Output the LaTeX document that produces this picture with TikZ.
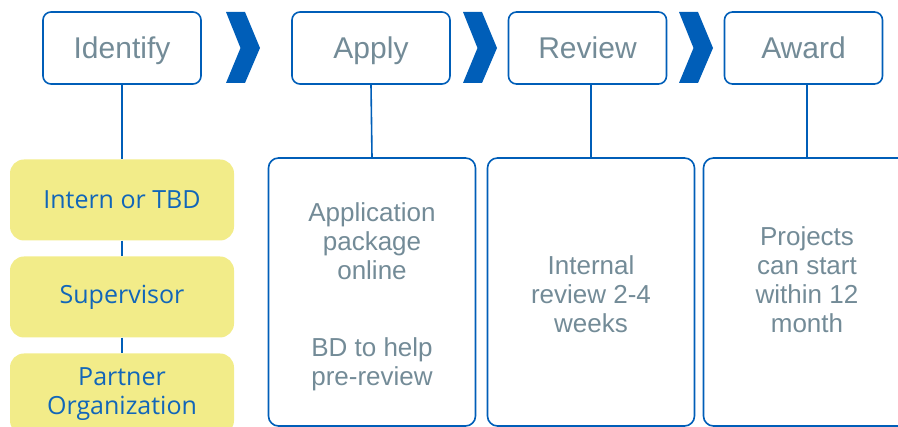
\documentclass[tikz,border=0pt]{standalone}
\usepackage{fontspec}
\setmainfont{Liberation Sans}
\newfontfamily\segoe{Open Sans}
\definecolor{blu}{HTML}{005EB8}
\definecolor{gry}{HTML}{738B97}
\definecolor{yel}{HTML}{F2EC89}
\definecolor{ytxt}{HTML}{1166B9}
\begin{document}
\begin{tikzpicture}[x=1pt,y=-1pt,
 hdr/.style={draw=blu, line width=1.6pt, rounded corners=8pt, minimum width=158pt, minimum height=72pt, text=gry, font=\fontsize{30}{34}\selectfont, inner sep=0pt, text height=28pt, text depth=6.5pt},
 low/.style={draw=blu, line width=1.6pt, rounded corners=10pt, minimum width=207pt, minimum height=268pt, inner sep=0pt},
 ybox/.style={fill=yel, rounded corners=14pt, minimum width=224pt, minimum height=81pt, text=ytxt, font=\segoe\fontsize{25}{28.5}\selectfont, align=center, inner sep=0pt},
 body/.style={text=gry, font=\fontsize{26}{29}\selectfont, align=center, inner sep=0pt},
 link/.style={draw=blu, line width=1.6pt},
 chev/.style={fill=blu}]
\useasboundingbox (0,0) rectangle (898,427);
\clip (0,0) rectangle (898,427);
% headers
\node[hdr] (identify) at (122,48) {Identify};
\node[hdr] (apply) at (371,48) {Apply};
\node[hdr] (review) at (587.5,48) {Review};
\node[hdr] (award) at (803.5,48) {Award};
% chevrons
\foreach \dx in {0,237,453}{
  \fill[chev] (226+\dx,12) -- (245+\dx,12) -- (260+\dx,48) -- (245+\dx,83) -- (226+\dx,83) -- (240.5+\dx,48) -- cycle;
}
% yellow boxes
\node[ybox] (intern) at (122,200) {Intern or TBD};
\node[ybox] (super) at (122,297) {Supervisor};
\node[ybox] (partner) at (122,394) {Partner\\Organization};
\draw[link] (identify.south) -- (intern.north);
\draw[link] (intern.south) -- (super.north);
\draw[link] (super.south) -- (partner.north);
% lower boxes
\node[low] (applybox) at (372,292) {};
\node[low] (reviewbox) at (591,292) {};
\node[low] (awardbox) at (807,292) {};
\draw[link] (apply.south) -- (applybox.north);
\draw[link] (reviewbox.north) -- (reviewbox.north |- review.south);
\draw[link] (awardbox.north) -- (awardbox.north |- award.south);
% texts
\node[body] (t1) at (372,241) {Application\\package\\online};
\node[body] (t2) at (372,364.5) {BD to help\\pre-review};
\node[body] (t3) at (591,294) {Internal\\review 2-4\\weeks};
\node[body] (t4) at (807,280) {Projects\\can start\\within 12\\month};
\end{tikzpicture}
\end{document}
